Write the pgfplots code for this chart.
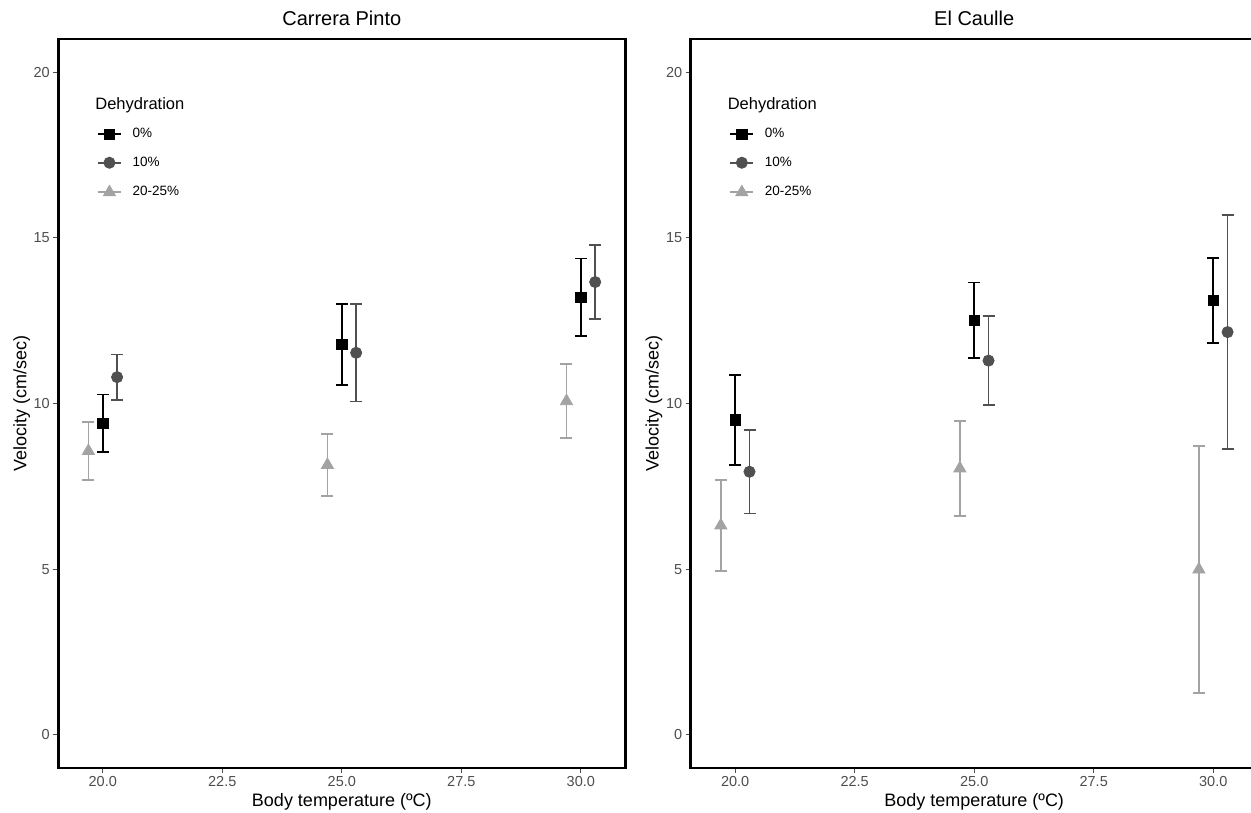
\documentclass[border=0pt]{standalone}
\usepackage{fontspec}
\setmainfont{Liberation Sans}
\usepackage{pgfplots}
\pgfplotsset{compat=1.18}

\definecolor{dark}{HTML}{505050}
\definecolor{light}{HTML}{A3A3A3}
\definecolor{tickgray}{HTML}{4D4D4D}

\pgfplotsset{
  panel/.style={
    scale only axis, anchor=south west,
    width=567pt, height=729pt,
    xmin=19.07, xmax=30.93, ymin=-1, ymax=21,
    xtick={20,22.5,25,27.5,30}, ytick={0,5,10,15,20},
    xticklabel style={/pgf/number format/.cd, fixed, fixed zerofill, precision=1},
    /pgf/number format/assume math mode=true,
    tick label style={font=\fontsize{14.5}{16}\selectfont, text=tickgray},
    axis line style={line width=2.5pt},
    tick style={draw=tickgray, line width=1pt},
    major tick length=5pt, tick align=outside, xtick pos=left, ytick pos=left,
    xlabel={Body temperature (ºC)}, ylabel={Velocity (cm/sec)},
    label style={font=\fontsize{18}{20}\selectfont},
    xlabel style={at={(axis description cs:0.5,0)}, anchor=base, yshift=-38pt},
    ylabel style={at={(axis description cs:0,0.5)}, anchor=base, yshift=32pt},
    title style={font=\fontsize{20}{22}\selectfont, at={(axis description cs:0.5,1)}, anchor=base, yshift=7pt},
    legend image code/.code={\draw[mark repeat=2,mark phase=2,#1] plot coordinates {(0pt,0pt)(11.5pt,0pt)(23pt,0pt)};},
    legend cell align=left,
    legend style={at={(axis description cs:0.068,0.878)}, anchor=north west,
      draw=none, fill=none, inner sep=0pt, column sep=10.7pt, row sep=16.6pt,
      nodes={inner sep=0pt, text height=9.5pt, text depth=2.5pt, font=\fontsize{13.5}{15}\selectfont}},
    clip=false,
  },
  sq/.style={black, mark=square*, mark size=5.2pt, mark options={solid, line width=0.8pt}},
  ci/.style={dark, mark=*, mark size=5.6pt, mark options={solid, line width=0.8pt}},
  tr/.style={light, mark=triangle*, mark size=7pt, mark options={solid, line width=0.8pt}},
  eb/.style={forget plot, only marks, line width=1.8pt,
    error bars/.cd, y dir=both, y explicit,
    error bar style={line width=1.8pt},
    error mark options={rotate=90, mark size=6pt, line width=1.8pt}},
}

\begin{document}
\begin{tikzpicture}[x=1pt,y=1pt]
\useasboundingbox (0,0) rectangle (1251,812);

% ---- Carrera Pinto ----
\begin{axis}[panel, at={(58.3pt,44pt)}, title={Carrera Pinto}]
\node[anchor=base west, inner sep=0pt, font=\fontsize{16.5}{19}\selectfont] at (axis description cs:0.0650,0.903) {Dehydration};
\addlegendimage{sq, line width=1.8pt}
\addlegendentry{0\%}
\addlegendimage{ci, line width=1.8pt}
\addlegendentry{10\%}
\addlegendimage{tr, line width=1.8pt}
\addlegendentry{20-25\%}
\addplot[sq, eb] table[x=x, y=y, y error=e] {
x y e
20.0 9.405 0.865
25.0 11.78 1.22
30.0 13.20 1.175
};
\addplot[ci, eb] table[x=x, y=y, y error=e] {
x y e
20.3 10.795 0.685
25.3 11.53 1.47
30.3 13.665 1.115
};
\addplot[tr, eb] table[x=x, y=y, y error=e] {
x y e
19.7 8.565 0.875
24.7 8.145 0.945
29.7 10.07 1.12
};
\end{axis}

% ---- El Caulle ----
\begin{axis}[panel, at={(690.7pt,44pt)}, title={El Caulle}]
\node[anchor=base west, inner sep=0pt, font=\fontsize{16.5}{19}\selectfont] at (axis description cs:0.0650,0.903) {Dehydration};
\addlegendimage{sq, line width=1.8pt}
\addlegendentry{0\%}
\addlegendimage{ci, line width=1.8pt}
\addlegendentry{10\%}
\addlegendimage{tr, line width=1.8pt}
\addlegendentry{20-25\%}
\addplot[sq, eb] table[x=x, y=y, y error=e] {
x y e
20.0 9.50 1.36
25.0 12.515 1.135
30.0 13.11 1.29
};
\addplot[ci, eb] table[x=x, y=y, y error=e] {
x y e
20.3 7.94 1.26
25.3 11.295 1.345
30.3 12.155 3.535
};
\addplot[tr, eb] table[x=x, y=y, y error=e] {
x y e
19.7 6.32 1.38
24.7 8.04 1.43
29.7 4.99 3.73
};
\end{axis}
\end{tikzpicture}
\end{document}
